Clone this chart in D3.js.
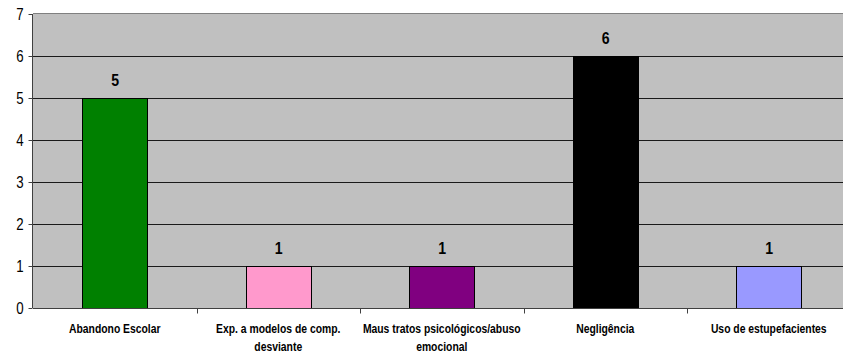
<!DOCTYPE html>
<html>
<head>
<meta charset="utf-8">
<script src="https://cdn.jsdelivr.net/npm/d3@7"></script>
<style>
  html, body { margin: 0; padding: 0; background: #fff; overflow: hidden; }
  svg { display: block; }
  text { font-family: "Liberation Sans", Arial, sans-serif; }
</style>
</head>
<body>
<svg id="chart" width="843" height="356"></svg>
<script>
const categories = [
  "Abandono Escolar",
  "Exp. a modelos de comp.\ndesviante",
  "Maus tratos psicológicos/abuso\nemocional",
  "Negligência",
  "Uso de estupefacientes"
];
const values = [5, 1, 1, 6, 1];
const barColors = ["#008000", "#FF99CC", "#800080", "#000000", "#9999FF"];
const yTicks = [0, 1, 2, 3, 4, 5, 6, 7];

const svg = d3.select("#chart");
const pLeft = 33, pRight = 850.5, pTop = 14, pBottom = 308;
const NARROW = 0.83;

const x = d3.scaleBand().domain(d3.range(categories.length)).range([pLeft, pRight]).paddingInner(0).paddingOuter(0);
const y = d3.scaleLinear().domain([0, 7]).range([pBottom, pTop]);
const barW = x.bandwidth() * 0.4;

// plot background
svg.append("rect").attr("x", pLeft).attr("y", pTop).attr("width", pRight - pLeft).attr("height", pBottom - pTop).attr("fill", "#C0C0C0");

// gridlines
svg.append("g").selectAll("line").data(yTicks.filter(d => d > 0 && d < 7)).join("line")
  .attr("x1", pLeft).attr("x2", pRight)
  .attr("y1", d => Math.round(y(d)) + 0.5).attr("y2", d => Math.round(y(d)) + 0.5)
  .attr("stroke", "#1a1a1a").attr("stroke-width", 1);
// top border
svg.append("line").attr("x1", pLeft).attr("x2", pRight).attr("y1", pTop - 0.5).attr("y2", pTop - 0.5)
  .attr("stroke", "#808080").attr("stroke-width", 1);

// bars
svg.append("g").selectAll("rect").data(values).join("rect")
  .attr("x", (d, i) => Math.round(x(i) + (x.bandwidth() - barW) / 2) + 0.5)
  .attr("y", d => Math.round(y(d)) + 0.5)
  .attr("width", Math.round(barW))
  .attr("height", d => Math.round(y(0)) - Math.round(y(d)))
  .attr("fill", (d, i) => barColors[i])
  .attr("stroke", "#000").attr("stroke-width", 1);

// value labels
svg.append("g").selectAll("text").data(values).join("text")
  .attr("transform", (d, i) => `translate(${x(i) + x.bandwidth() / 2 + 0.5},${y(d) - 12}) scale(${NARROW},1)`)
  .attr("text-anchor", "middle")
  .attr("font-size", 17).attr("font-weight", "bold").attr("fill", "#000")
  .text(d => d);

// y axis
const yAxis = d3.axisLeft(y).tickValues(yTicks).tickSize(4).tickPadding(6).tickFormat(d3.format("d"));
const gy = svg.append("g").attr("transform", `translate(${pLeft - 0.5},0)`).call(yAxis);
gy.select(".domain").attr("stroke", "#404040").attr("d", `M0,${pTop}V${pBottom}`);
gy.selectAll(".tick line").attr("stroke", "#404040");
gy.selectAll(".tick text").attr("font-size", 16).attr("fill", "#000")
  .attr("x", -9 / NARROW).attr("dy", "0.36em")
  .attr("transform", `scale(${NARROW},1)`);

// x axis
const xAxis = d3.axisBottom(x).tickSize(0).tickFormat("");
const gx = svg.append("g").attr("transform", `translate(0,${pBottom + 0.5})`).call(xAxis);
gx.select(".domain").attr("stroke", "#404040").attr("d", `M${pLeft},0H${pRight}`);
gx.selectAll(".tick").remove();
// category boundary ticks
gx.selectAll("line.sep").data(d3.range(1, categories.length)).join("line")
  .attr("class", "sep")
  .attr("x1", i => Math.round(x(i)) + 0.5).attr("x2", i => Math.round(x(i)) + 0.5)
  .attr("y1", 0).attr("y2", 5)
  .attr("stroke", "#404040");

// category labels
const catG = svg.append("g").selectAll("text").data(categories).join("text")
  .attr("transform", (d, i) => `translate(${x(i) + x.bandwidth() / 2},333) scale(${NARROW},1)`)
  .attr("text-anchor", "middle")
  .attr("font-size", 12.5).attr("font-weight", "bold").attr("fill", "#000");
catG.each(function(d) {
  const t = d3.select(this);
  d.split("\n").forEach((line, k) => {
    t.append("tspan").attr("x", 0).attr("dy", k === 0 ? 0 : 18.5).text(line);
  });
});
</script>
</body>
</html>
